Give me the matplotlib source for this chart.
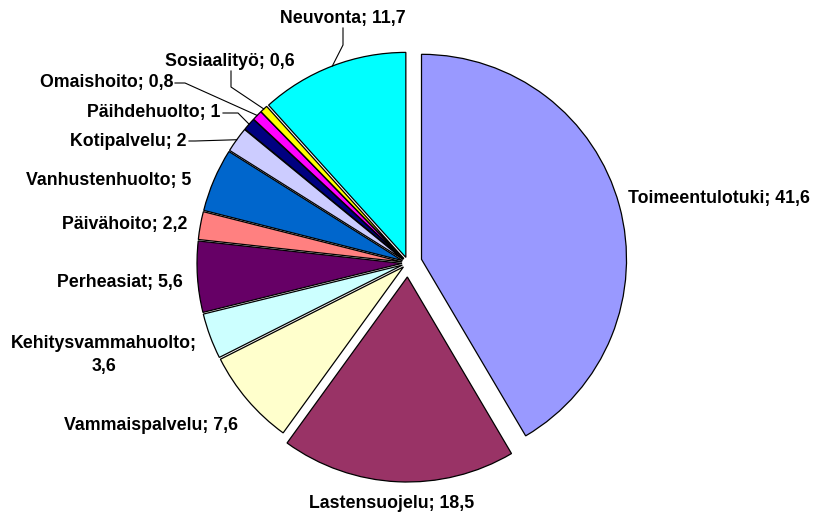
import matplotlib.pyplot as plt
import numpy as np

categories = ["Toimeentulotuki", "Lastensuojelu", "Vammaispalvelu",
              "Kehitysvammahuolto", "Perheasiat", "Päivähoito",
              "Vanhustenhuolto", "Kotipalvelu", "Päihdehuolto",
              "Omaishoito", "Sosiaalityö", "Neuvonta"]
values = [41.6, 18.5, 7.6, 3.6, 5.6, 2.2, 5, 2, 1, 0.8, 0.6, 11.7]
value_text = ["41,6", "18,5", "7,6", "3,6", "5,6", "2,2", "5", "2", "1",
              "0,8", "0,6", "11,7"]
colors = ["#9999FF", "#993366", "#FFFFCC", "#CCFFFF", "#660066", "#FF8080",
          "#0066CC", "#CCCCFF", "#000080", "#FF00FF", "#FFFF00", "#00FFFF"]

# layout in pixels (from top-left of the 816x515 image)
W, H = 816, 515
cx, cy, R = 408, 263, 205
explode_px = [14, 14, 6, 6, 6, 6, 6, 6, 6, 6, 6, 6]

# label anchor (x, y, ha)
label_pos = [(628, 198, "left"), (392, 503, "center"), (238, 426, "right"),
             (104, 355, "center"), (183, 282, "right"), (187, 224, "right"),
             (191, 180, "right"), (187, 141, "right"), (220, 113, "right"),
             (173, 83, "right"), (230, 61, "center"), (343, 18, "center")]
# leader lines: label-side start point and elbow
leaders = {7: [(189, 141), (195, 141)],
           8: [(223, 113), (238, 113)],
           9: [(175, 83), (185, 83)],
           10: [(231, 71), (231, 87)],
           11: [(343, 28), (343, 45)]}


def to_data(px, py):
    return (px - cx) / R, (cy - py) / R


fig = plt.figure(figsize=(W / 100, H / 100), dpi=100)
ax = fig.add_axes([0, 0, 1, 1])

wedges, _ = ax.pie(values, colors=colors, startangle=90, counterclock=False,
                   explode=[e / R for e in explode_px], radius=1,
                   wedgeprops=dict(edgecolor="black", linewidth=0.9))
ax.set_xlim(-cx / R, (W - cx) / R)
ax.set_ylim(-(H - cy) / R, cy / R)
ax.set_aspect("equal")
ax.axis("off")

font = dict(family="Liberation Sans", fontweight="bold", fontsize=12.8)
for i, (cat, vt) in enumerate(zip(categories, value_text)):
    px, py, ha = label_pos[i]
    x, y = to_data(px, py)
    if cat == "Kehitysvammahuolto":
        txt = f"{cat};\n{vt}"
    else:
        txt = f"{cat}; {vt}"
    ax.text(x, y, txt, ha=ha, va="center", multialignment="center",
            linespacing=1.4, **font)

for i, pts in leaders.items():
    w = wedges[i]
    mid = np.deg2rad((w.theta1 + w.theta2) / 2)
    ex, ey = w.center[0] + np.cos(mid), w.center[1] + np.sin(mid)
    xs = [to_data(*p)[0] for p in pts] + [ex]
    ys = [to_data(*p)[1] for p in pts] + [ey]
    ax.plot(xs, ys, color="black", linewidth=0.8)

fig.savefig("out.png", dpi=100)
